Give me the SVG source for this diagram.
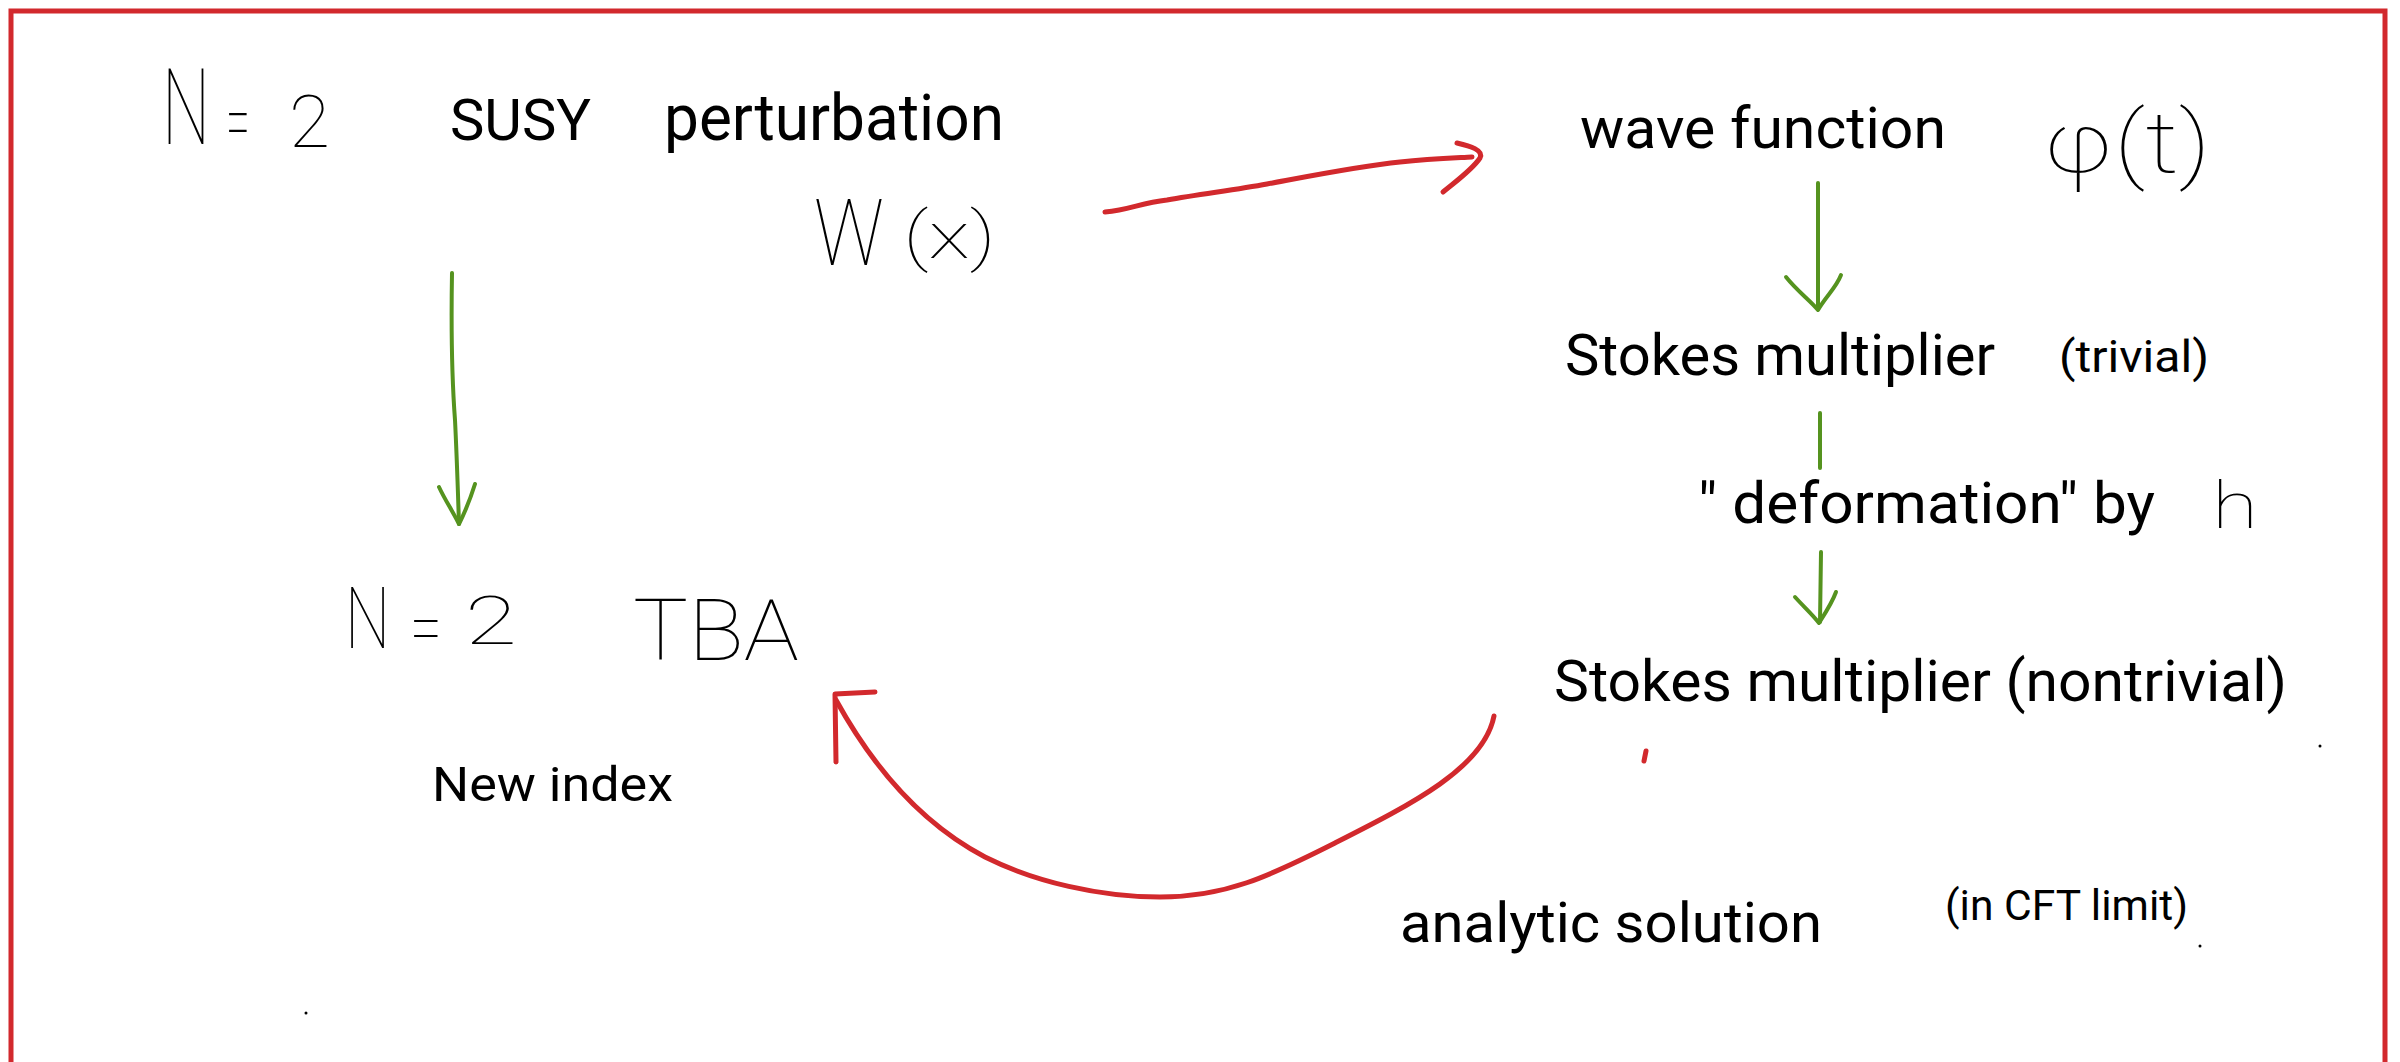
<svg xmlns="http://www.w3.org/2000/svg" width="2400" height="1062" viewBox="0 0 2400 1062">
<style>
.t{font-family:Roboto,"Liberation Sans",sans-serif;fill:#000;}
.hw{font-family:Roboto,"DejaVu Sans",sans-serif;font-weight:100;fill:#000;}
.red{fill:none;stroke:#d2292d;stroke-width:5;stroke-linecap:round;stroke-linejoin:round;}
.green{fill:none;stroke:#55931f;stroke-width:4;stroke-linecap:round;stroke-linejoin:round;}
.dot{fill:#000;}
</style>
<rect width="2400" height="1062" fill="#fff"/>
<g id="frame"><rect x="11" y="11" width="2374" height="1100" fill="none" stroke="#d2292d" stroke-width="5"/></g>

<g id="node-susy">
<text class="hw" transform="translate(162,144) scale(0.64,1)" font-size="106">N</text>
<text class="hw" x="226" y="150" font-size="84" textLength="24" lengthAdjust="spacingAndGlyphs">=</text>
<text class="hw" x="289" y="147" font-size="73" textLength="41" lengthAdjust="spacingAndGlyphs">2</text>
<text class="t" x="450" y="140" font-size="58" textLength="141" lengthAdjust="spacingAndGlyphs">SUSY</text>
<text class="t" x="664" y="140" font-size="64" textLength="340" lengthAdjust="spacingAndGlyphs">perturbation</text>
<text class="hw" x="814" y="265" font-size="92" textLength="70" lengthAdjust="spacingAndGlyphs">W</text>
<text class="hw" x="903" y="258" font-size="64" textLength="93" lengthAdjust="spacingAndGlyphs">(x)</text>
</g>

<g id="node-wave">
<text class="t" x="1580" y="148" font-size="57" textLength="366" lengthAdjust="spacingAndGlyphs">wave function</text>
<text class="hw" x="2043" y="172" font-size="85" textLength="168" lengthAdjust="spacingAndGlyphs">φ(t)</text>
</g>

<g id="node-stokes-trivial">
<text class="t" x="1565" y="375" font-size="58" textLength="430" lengthAdjust="spacingAndGlyphs">Stokes multiplier</text>
<text class="t" x="2059" y="372" font-size="45" textLength="150" lengthAdjust="spacingAndGlyphs">(trivial)</text>
</g>

<g id="node-deformation">
<text class="t" x="1698" y="523" font-size="58" textLength="457" lengthAdjust="spacingAndGlyphs">" deformation" by</text>
<text class="hw" x="2212" y="528" font-size="64" textLength="46" lengthAdjust="spacingAndGlyphs">h</text>
</g>

<g id="node-stokes-nontrivial">
<text class="t" x="1554" y="701" font-size="58" textLength="733" lengthAdjust="spacingAndGlyphs">Stokes multiplier (nontrivial)</text>
</g>

<g id="node-analytic">
<text class="t" x="1400" y="942" font-size="56" textLength="422" lengthAdjust="spacingAndGlyphs">analytic solution</text>
<text class="t" x="1945" y="920" font-size="42" textLength="243" lengthAdjust="spacingAndGlyphs">(in CFT limit)</text>
</g>

<g id="node-tba">
<text class="hw" transform="translate(345,648) scale(0.75,1)" font-size="85">N</text>
<text class="hw" x="410" y="653" font-size="76" textLength="32" lengthAdjust="spacingAndGlyphs">=</text>
<text class="hw" x="465" y="644" font-size="66" textLength="52" lengthAdjust="spacingAndGlyphs">2</text>
<text class="hw" x="633" y="660" font-size="86" textLength="166" lengthAdjust="spacingAndGlyphs">TBA</text>
<text class="t" x="432" y="801" font-size="48" textLength="241" lengthAdjust="spacingAndGlyphs">New index</text>
</g>

<g id="connectors">
<path class="red" d="M1105,212 C1130,210 1140,203 1167,200 C1200,194 1235,190 1267,184 C1310,176 1360,166 1400,162 C1430,159 1455,158 1472,157"/>
<path class="red" d="M1457,143 C1470,146 1484,150 1480,158 C1472,170 1455,182 1443,192"/>
<path class="green" d="M1818,183 L1818,308"/>
<path class="green" d="M1786,277 C1798,292 1810,300 1818,310 C1826,296 1836,288 1841,275"/>
<path class="green" d="M1820,413 L1820,468"/>
<path class="green" d="M1821,552 L1820,622"/>
<path class="green" d="M1795,597 C1805,608 1812,614 1819,623 C1826,612 1832,603 1836,592"/>
<path class="green" d="M452,273 C451,330 452,380 455,420 C457,460 458,495 459,524"/>
<path class="green" d="M439,487 C445,500 452,510 459,524 C465,512 470,500 475,484"/>
<path class="red" d="M1494,716 C1484,768 1410,805 1335,843 C1268,877 1225,897 1160,897 C1100,897 1035,882 985,857 C930,828 880,780 836,700"/>
<path class="red" d="M836,762 L835,694 L875,692"/>
<path class="red" stroke-width="3" d="M1646,751 L1644,761"/>
</g>
<circle class="dot" cx="2320" cy="746" r="1.5"/>
<circle class="dot" cx="2200" cy="946" r="1.5"/>
<circle class="dot" cx="306" cy="1013" r="1.5"/>
</svg>
